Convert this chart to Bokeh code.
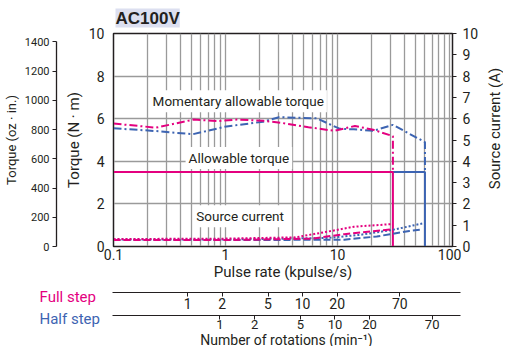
import math
from bokeh.plotting import figure
from bokeh.layouts import column, row
from bokeh.models import Range1d, LinearAxis, LogAxis, LogScale, FixedTicker, Label, Title
from bokeh.embed import file_html
from bokeh.resources import INLINE

MAGENTA = "#e4007f"
BLUE = "#3d64b2"
INK = "#231f20"
FONT = "Roboto"

# ---- data (pulse rate in kpulse/s) ----
full_mom_f = [0.1, 0.24, 0.52, 0.85, 1.27, 2.17, 3.2, 5.5, 9.4, 14.3, 20.8, 31.2, 31.2]
full_mom_t = [5.77, 5.58, 5.96, 5.89, 5.96, 5.9, 5.8, 5.6, 5.43, 5.66, 5.48, 5.18, 3.5]
half_mom_f = [0.1, 0.24, 0.51, 0.98, 2.17, 3.0, 6.5, 10.4, 14.0, 20.8, 31.2, 60.3, 60.3]
half_mom_t = [5.55, 5.42, 5.27, 5.62, 5.86, 6.07, 6.02, 5.53, 5.5, 5.43, 5.71, 4.9, 3.5]

full_allow_f = [0.1, 31.2, 31.2]
full_allow_t = [3.5, 3.5, 0.0]
half_allow_f = [0.1, 60.3, 60.3]
half_allow_t = [3.5, 3.5, 0.0]

full_cur_dot_f = [0.1, 1.0, 4.2, 8.2, 14.0, 30.3]
full_cur_dot_a = [0.35, 0.37, 0.43, 0.70, 0.93, 1.05]
full_cur_dash_f = [0.1, 1.0, 5.9, 11.5, 30.3]
full_cur_dash_a = [0.30, 0.30, 0.37, 0.58, 0.80]
half_cur_dot_f = [0.1, 1.0, 8.2, 16.0, 31.0, 57.0]
half_cur_dot_a = [0.33, 0.33, 0.40, 0.55, 0.78, 1.08]
half_cur_dash_f = [0.1, 1.0, 11.5, 22.4, 43.7, 57.0]
half_cur_dash_a = [0.30, 0.30, 0.32, 0.47, 0.73, 0.80]

x_ticks = [0.1, 1, 10, 100]
x_tick_labels = ["0.1", "1", "10", "100"]
nm_ticks = [0, 2, 4, 6, 8, 10]
oz_ticks = [0, 200, 400, 600, 800, 1000, 1200, 1400]
amp_ticks = list(range(0, 11))
rot_ticks = [1, 2, 5, 10, 20, 70]
rot_labels = ["1", "2", "5", "10", "20", "70"]
full_kpps_per_rpm = 0.45
half_kpps_per_rpm = 0.86

X_START, X_END = 0.1, 106.2
DECADE_PX = 115.0            # layout: pixels per decade on the pulse-rate axis
LEFT_PX = 105                # layout: width left of the plotting box
STRIP_LEFT_PX = 112          # layout: same edge, measured inside the strip figure

def style_axis(ax, size="14px", title_size="15px"):
    ax.major_label_text_font = FONT
    ax.major_label_text_font_size = size
    ax.major_label_text_color = INK
    ax.axis_label_text_font = FONT
    ax.axis_label_text_font_size = title_size
    ax.axis_label_text_font_style = "normal"
    ax.axis_label_text_color = INK
    ax.axis_line_color = INK
    ax.major_tick_line_color = INK
    ax.minor_tick_line_color = None
    ax.major_tick_in = 0
    ax.minor_tick_in = 0
    ax.minor_tick_out = 0

# ================= main chart =================
P_W, P_H = 481, 286
p = figure(width=P_W, height=P_H, x_axis_type="log",
           x_range=Range1d(X_START, X_END), y_range=Range1d(0, 10),
           output_backend="svg", toolbar_location=None, frame_align=False,
           min_border_left=LEFT_PX, min_border_right=28, min_border_top=0, min_border_bottom=40)
p.outline_line_color = INK
p.outline_line_width = 1.5

p.title = Title(text="AC100V", text_font="Liberation Sans", text_font_style="bold",
                text_font_size="17px", text_color=INK, background_fill_color="#dcdff0",
                align="left", offset=2, standoff=12)

p.extra_y_ranges = {"oz": Range1d(0, 1457), "amp": Range1d(0, 10)}

minor = [m * d for d in (0.1, 1, 10) for m in range(1, 10)][1:] + [100]
p.xgrid.ticker = FixedTicker(ticks=minor)
p.xgrid.grid_line_color = "#9a9a9a"
p.xgrid.grid_line_width = 1.3
p.ygrid.ticker = FixedTicker(ticks=[2, 4, 6, 8])
p.ygrid.grid_line_color = "#9a9a9a"
p.ygrid.grid_line_width = 1.3

xa = p.xaxis[0]
style_axis(xa, "14px", "15px")
xa.ticker = FixedTicker(ticks=x_ticks)
xa.major_label_overrides = dict(zip(x_ticks, x_tick_labels))
xa.major_tick_out = 0
xa.major_label_standoff = 2
xa.axis_label = "Pulse rate (kpulse/s)"
xa.axis_label_standoff = 0

ya = p.yaxis[0]
style_axis(ya, "14px", "15px")
ya.ticker = FixedTicker(ticks=nm_ticks)
ya.major_tick_out = 0
ya.major_label_standoff = 9
ya.axis_label = "Torque (N · m)"
ya.axis_label_standoff = 3

sp = LinearAxis(ticker=FixedTicker(ticks=[]), axis_line_color=None, major_tick_out=0,
                major_tick_in=0, minor_tick_out=0, minor_tick_in=0, major_label_standoff=0,
                axis_label=" ", axis_label_text_font_size="2px", axis_label_standoff=0)
p.add_layout(sp, "left")

oz = LinearAxis(y_range_name="oz", bounds=(0, 1400))
style_axis(oz, "11px", "13px")
oz.ticker = FixedTicker(ticks=oz_ticks)
oz.major_tick_out = 4
oz.major_label_standoff = 3
oz.axis_label = "Torque (oz · in.)"
oz.axis_label_standoff = 3
oz.axis_line_width = 1.3
p.add_layout(oz, "left")

am = LinearAxis(y_range_name="amp")
style_axis(am, "14px", "15px")
am.ticker = FixedTicker(ticks=amp_ticks)
am.major_tick_out = 4
am.major_label_standoff = 6
p.add_layout(am, "right")

p.line(half_allow_f, half_allow_t, color=BLUE, line_width=2)
p.line(full_allow_f, full_allow_t, color=MAGENTA, line_width=2)
p.line(half_mom_f, half_mom_t, color=BLUE, line_width=2, line_dash="8 3 2 3")
p.line(full_mom_f, full_mom_t, color=MAGENTA, line_width=2, line_dash="8 3 2 3")
p.line(half_cur_dash_f, half_cur_dash_a, y_range_name="amp", color=BLUE, line_width=2, line_dash="7 3")
p.line(half_cur_dot_f, half_cur_dot_a, y_range_name="amp", color=BLUE, line_width=2, line_dash="2 2")
p.line(full_cur_dash_f, full_cur_dash_a, y_range_name="amp", color=MAGENTA, line_width=2, line_dash="7 3")
p.line(full_cur_dot_f, full_cur_dot_a, y_range_name="amp", color=MAGENTA, line_width=2, line_dash="2 2")

def text_label(x, y, t):
    p.add_layout(Label(x=x, y=y, text=t, text_font=FONT, text_font_size="13.5px", text_color=INK,
                       text_baseline="middle", text_align="left", background_fill_color="white",
                       padding=3))

text_label(0.21, 6.82, "Momentary allowable torque")
text_label(0.44, 4.16, "Allowable torque")
text_label(0.515, 1.42, "Source current")

# ================= right-hand axis title (own small figure) =================
RT_W, RT_H = 22, P_H
rt = figure(width=RT_W, height=RT_H, x_range=Range1d(0, RT_W), y_range=Range1d(0, RT_H),
            output_backend="svg", toolbar_location=None, frame_align=False,
            x_axis_location=None, y_axis_location=None,
            min_border_left=0, min_border_right=0, min_border_top=0, min_border_bottom=0)
rt.outline_line_color = None
rt.grid.visible = False
rt.add_layout(Label(x=13, y=RT_H - 128, text="Source current (A)", angle=math.pi / 2,
                    text_font=FONT, text_font_size="15px", text_color=INK,
                    text_align="center", text_baseline="middle"))

# ================= rotation scales (frame spans the whole strip) =================
RS_W, RS_H = 503, 346 - P_H
lo_dec = -STRIP_LEFT_PX / DECADE_PX
hi_dec = (RS_W - STRIP_LEFT_PX) / DECADE_PX
def strip_range(k):
    return Range1d(X_START / k * 10 ** lo_dec, X_START / k * 10 ** hi_dec)

rs = figure(width=RS_W, height=RS_H, x_axis_type="log", x_range=strip_range(full_kpps_per_rpm),
            y_range=Range1d(0, RS_H), x_axis_location=None, y_axis_location=None,
            output_backend="svg", toolbar_location=None, frame_align=False,
            min_border_left=0, min_border_right=0, min_border_top=0, min_border_bottom=0)
rs.outline_line_color = None
rs.grid.visible = False
rs.extra_x_ranges = {"half": strip_range(half_kpps_per_rpm)}
rs.extra_x_scales = {"half": LogScale()}

fa = LogAxis(fixed_location=RS_H - 6,
             bounds=(X_START / full_kpps_per_rpm, X_END / full_kpps_per_rpm))
style_axis(fa, "14px")
fa.ticker = FixedTicker(ticks=rot_ticks)
fa.major_label_overrides = dict(zip(rot_ticks, rot_labels))
fa.major_tick_out = 4
fa.major_label_standoff = 1
rs.add_layout(fa, "below")

ha = LogAxis(x_range_name="half", fixed_location=RS_H - 29,
             bounds=(X_START / half_kpps_per_rpm, X_END / half_kpps_per_rpm))
style_axis(ha, "13px", "14px")
ha.ticker = FixedTicker(ticks=rot_ticks)
ha.major_label_overrides = dict(zip(rot_ticks, rot_labels))
ha.major_tick_out = 4
ha.major_label_standoff = 0
ha.axis_label = "Number of rotations (min\u207b\u00b9)"
ha.axis_label_standoff = 0
rs.add_layout(ha, "below")

rs.add_layout(Label(x=39, y=RS_H - 10, x_units="screen", y_units="screen", text="Full step",
                    text_font=FONT, text_font_size="15px", text_color=MAGENTA,
                    text_baseline="middle"))
rs.add_layout(Label(x=39, y=RS_H - 32, x_units="screen", y_units="screen", text="Half step",
                    text_font=FONT, text_font_size="15px", text_color=BLUE,
                    text_baseline="middle"))

layout = column(row(p, rt), rs)
open("out.html", "w").write(file_html(layout, INLINE))
